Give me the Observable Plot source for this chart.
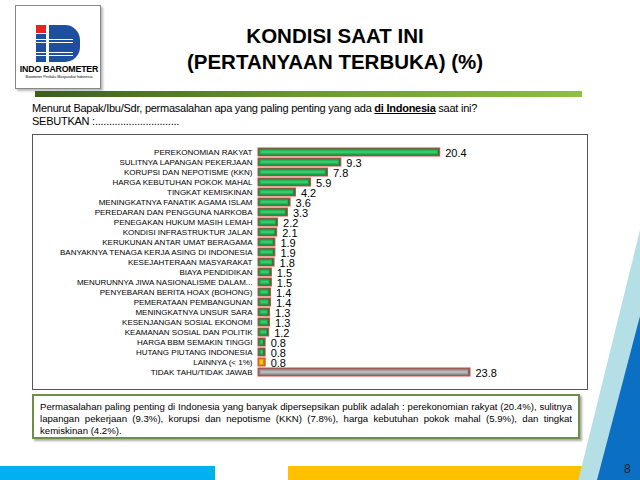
<!DOCTYPE html>
<html><head><meta charset="utf-8">
<script src="https://cdn.jsdelivr.net/npm/d3@7"></script>
<script src="https://cdn.jsdelivr.net/npm/@observablehq/plot@0.6"></script>
<style>
html,body{margin:0;padding:0;background:#fff;}
#slide{position:relative;width:640px;height:480px;overflow:hidden;font-family:"Liberation Sans",Arial,sans-serif;color:#000;}
.abs{position:absolute;}
#logo{left:15px;top:5px;width:84px;height:82px;border:1px solid #888;box-shadow:2px 2px 2px #bbb;background:#fff;}
#title{left:120px;width:430px;top:23px;text-align:center;font-weight:bold;font-size:20.5px;line-height:25.5px;}
#rule{left:35px;top:91px;width:547px;height:6px;background:linear-gradient(to right,#3b5e1c,#6a9a2e 50%,#8dc044);}
#question{left:32px;top:102px;font-size:11px;line-height:13px;letter-spacing:-0.25px;}
#chartbox{left:32px;top:134px;width:554px;height:254px;border:1px solid #555;}
#chart{left:32px;top:134px;}
#note{left:32px;top:394px;width:532px;height:31px;border:2px solid #6b8f47;padding:5px 6px;font-size:9.6px;line-height:12px;text-align:justify;box-shadow:2px 2px 2px #aaa;background:#fff;}
#bl{left:0;top:466px;width:215px;height:14px;background:#00b0f0;}
#by{left:288px;top:466px;width:297px;height:14px;background:#ffc000;}
#tri1{left:570px;top:230px;width:70px;height:250px;background:#b5dfe6;clip-path:polygon(100% 0,100% 100%,12% 100%);}
#tri2{left:590px;top:316px;width:50px;height:164px;background:#0b6fc4;clip-path:polygon(100% 0,100% 100%,14% 100%);}
#pg{left:624px;top:462px;font-size:12px;color:#222;}
</style></head>
<body>
<div id="slide">
  <div id="logo" class="abs">
    <div class="abs" style="left:20px;top:19px;width:10px;height:8px;background:#e8231f"></div>
    <div class="abs" style="left:20px;top:28px;width:10px;height:28px;background:#1d4f9e"></div>
    <div class="abs" style="left:33px;top:19px;width:31px;height:37px;background:#1d4f9e;border-radius:0 15px 15px 0"></div>
    <div class="abs" style="left:20px;top:33px;width:37px;height:1px;background:#fff"></div>
    <div class="abs" style="left:20px;top:36px;width:37px;height:1px;background:#fff"></div>
    <div class="abs" style="left:20px;top:46px;width:37px;height:1px;background:#fff"></div>
    <div class="abs" style="left:20px;top:49px;width:37px;height:1px;background:#fff"></div>
    <div class="abs" style="left:3px;top:58px;width:80px;text-align:center;font-weight:bold;font-size:8.8px;letter-spacing:-0.2px">INDO BAROMETER</div>
    <div class="abs" style="left:4px;top:69px;width:78px;text-align:center;font-size:3.6px">Barometer Perilaku Masyarakat Indonesia</div>
  </div>
  <div id="title" class="abs">KONDISI SAAT INI<br>(PERTANYAAN TERBUKA) (%)</div>
  <div id="rule" class="abs"></div>
  <div id="question" class="abs">Menurut Bapak/Ibu/Sdr, permasalahan apa yang paling penting yang ada <b><u>di Indonesia</u></b> saat ini?<br>SEBUTKAN :..............................</div>
  <div id="chartbox" class="abs"></div>
  <div id="chart" class="abs"></div>
  <div id="note" class="abs">Permasalahan paling penting di Indonesia yang banyak dipersepsikan publik adalah : perekonomian rakyat (20.4%), sulitnya lapangan pekerjaan (9.3%), korupsi dan nepotisme (KKN) (7.8%), harga kebutuhan pokok mahal (5.9%), dan tingkat kemiskinan (4.2%).</div>
  <div id="bl" class="abs"></div>
  <div id="by" class="abs"></div>
  <div id="tri1" class="abs"></div>
  <div id="tri2" class="abs"></div>
  <div id="pg" class="abs">8</div>
</div>
<script>
const categories = [
  "PEREKONOMIAN RAKYAT",
  "SULITNYA LAPANGAN PEKERJAAN",
  "KORUPSI DAN NEPOTISME (KKN)",
  "HARGA KEBUTUHAN POKOK MAHAL",
  "TINGKAT KEMISKINAN",
  "MENINGKATNYA FANATIK AGAMA ISLAM",
  "PEREDARAN DAN PENGGUNA NARKOBA",
  "PENEGAKAN HUKUM MASIH LEMAH",
  "KONDISI INFRASTRUKTUR JALAN",
  "KERUKUNAN ANTAR UMAT BERAGAMA",
  "BANYAKNYA TENAGA KERJA ASING DI INDONESIA",
  "KESEJAHTERAAN MASYARAKAT",
  "BIAYA PENDIDIKAN",
  "MENURUNNYA JIWA NASIONALISME DALAM...",
  "PENYEBARAN BERITA HOAX (BOHONG)",
  "PEMERATAAN PEMBANGUNAN",
  "MENINGKATNYA UNSUR SARA",
  "KESENJANGAN SOSIAL EKONOMI",
  "KEAMANAN SOSIAL DAN POLITIK",
  "HARGA BBM SEMAKIN TINGGI",
  "HUTANG PIUTANG INDONESIA",
  "LAINNYA (< 1%)",
  "TIDAK TAHU/TIDAK JAWAB"
];
const values = [20.4, 9.3, 7.8, 5.9, 4.2, 3.6, 3.3, 2.2, 2.1, 1.9, 1.9, 1.8, 1.5, 1.5, 1.4, 1.4, 1.3, 1.3, 1.2, 0.8, 0.8, 0.8, 23.8];
const groups = categories.map((c, i) => i === categories.length - 1 ? "dk" : (i === categories.length - 2 ? "other" : "issue"));

const data = categories.map((c, i) => ({cat: c, val: values[i], grp: groups[i]}));
const outerFill = {issue: "#15803a", other: "#c98a00", dk: "#6f6f6f"};
const innerFill = {issue: "#23b857", other: "#f5c000", dk: "#a3a3a3"};
const stripe = {issue: "#56d683", other: "#ffe070", dk: "#cfcfcf"};

const chart = Plot.plot({
  width: 555,
  height: 255,
  marginLeft: 226,
  marginRight: 117,
  marginTop: 4.7,
  marginBottom: 3.2,
  style: {fontFamily: "'Liberation Sans', Arial, sans-serif", fontSize: "8px", background: "transparent", overflow: "visible"},
  x: {domain: [0, 23.8], axis: null},
  y: {domain: categories, padding: 0.18, label: null},
  marks: [
    Plot.axisY({tickSize: 0, tickPadding: 6, fontSize: 8, label: null}),
    Plot.barX(data, {y: "cat", x: "val", fill: d => outerFill[d.grp], stroke: "#d9473f", strokeWidth: 1}),
    Plot.barX(data, {y: "cat", x: "val", fill: d => innerFill[d.grp], insetTop: 1.5, insetBottom: 1.5, insetLeft: 1.5, insetRight: 2}),
    Plot.barX(data, {y: "cat", x: "val", fill: d => stripe[d.grp], insetTop: 3.5, insetBottom: 3.5, insetLeft: 3, insetRight: 3}),
    Plot.text(data, {y: "cat", x: "val", text: d => d.val.toFixed(1), textAnchor: "start", dx: 5, dy: 1, fontSize: 11, fill: "#000"})
  ]
});
document.getElementById("chart").appendChild(chart);
</script>
</body></html>
